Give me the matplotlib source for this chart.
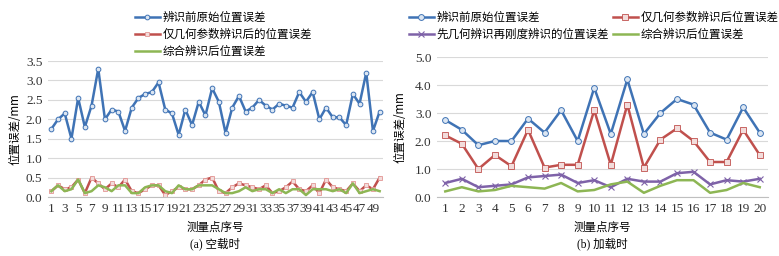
import matplotlib
matplotlib.use("Agg")
import matplotlib.pyplot as plt
import numpy as np

plt.rcParams['font.family'] = ['Liberation Serif', 'Noto Sans CJK SC', 'DejaVu Sans']

# (a) no-load data
pts_a = list(range(1, 51))
raw_a = [1.75, 2.0, 2.15, 1.5, 2.55, 1.8, 2.35, 3.3, 2.0, 2.25,
         2.2, 1.7, 2.3, 2.55, 2.65, 2.7, 2.95, 2.25, 2.15, 1.6,
         2.25, 1.85, 2.45, 2.1, 2.8, 2.45, 1.65, 2.3, 2.6, 2.2,
         2.3, 2.5, 2.35, 2.25, 2.4, 2.35, 2.3, 2.7, 2.45, 2.7,
         2.0, 2.3, 2.05, 2.05, 1.85, 2.65, 2.4, 3.2, 1.7, 2.2]
geo_a = [0.15, 0.3, 0.2, 0.25, 0.45, 0.1, 0.5, 0.35, 0.2, 0.35,
         0.25, 0.45, 0.15, 0.1, 0.2, 0.3, 0.3, 0.05, 0.15, 0.25,
         0.2, 0.2, 0.3, 0.45, 0.5, 0.15, 0.1, 0.25, 0.35, 0.3,
         0.25, 0.2, 0.3, 0.1, 0.15, 0.25, 0.4, 0.2, 0.15, 0.3,
         0.1, 0.45, 0.25, 0.2, 0.15, 0.35, 0.15, 0.3, 0.2, 0.5]
comb_a = [0.15, 0.3, 0.15, 0.2, 0.45, 0.1, 0.15, 0.3, 0.25, 0.15,
          0.3, 0.3, 0.1, 0.1, 0.25, 0.3, 0.3, 0.15, 0.1, 0.3,
          0.2, 0.2, 0.3, 0.3, 0.3, 0.2, 0.1, 0.1, 0.15, 0.25,
          0.15, 0.2, 0.2, 0.1, 0.2, 0.1, 0.2, 0.2, 0.05, 0.2,
          0.2, 0.2, 0.15, 0.2, 0.1, 0.35, 0.1, 0.15, 0.2, 0.15]

# (b) loaded data
pts_b = list(range(1, 21))
raw_b = [2.75, 2.4, 1.85, 2.0, 2.0, 2.8, 2.3, 3.1, 2.0, 3.9,
         2.25, 4.2, 2.25, 3.0, 3.5, 3.3, 2.3, 2.05, 3.2, 2.3]
geo_b = [2.2, 1.9, 1.0, 1.5, 1.1, 2.4, 1.05, 1.15, 1.15, 3.1,
         1.15, 3.3, 1.05, 2.05, 2.45, 2.0, 1.25, 1.25, 2.4, 1.5]
geo_stiff_b = [0.5, 0.65, 0.35, 0.4, 0.45, 0.7, 0.75, 0.8, 0.5, 0.6,
               0.35, 0.65, 0.55, 0.55, 0.85, 0.9, 0.45, 0.6, 0.55, 0.65]
comb_b = [0.2, 0.35, 0.2, 0.25, 0.4, 0.35, 0.3, 0.5, 0.2, 0.25,
          0.45, 0.55, 0.15, 0.4, 0.6, 0.6, 0.15, 0.25, 0.5, 0.35]

BLUE = '#3F73B5'
RED = '#C0504D'
GREEN = '#8DB654'
PURPLE = '#7E62A8'
GRID = '#D9D9D9'
CJK = ['Noto Sans CJK SC', 'DejaVu Sans']
FS_CJK = 8.3
FS_TICK = 9.5

fig = plt.figure(figsize=(7.79, 2.56), dpi=100)
W, H = 779, 256
axA = fig.add_axes([48 / W, 1 - 197 / H, (383 - 48) / W, (197 - 61) / H])
axB = fig.add_axes([437 / W, 1 - 197 / H, (768 - 437) / W, (197 - 57) / H])


def style(ax):
    for s in ['top', 'right', 'left']:
        ax.spines[s].set_visible(False)
    ax.spines['bottom'].set_color('#BFBFBF')
    ax.spines['bottom'].set_linewidth(0.8)
    ax.yaxis.grid(True, color=GRID, linewidth=0.8)
    ax.set_axisbelow(True)
    ax.tick_params(length=0, labelsize=FS_TICK, colors='#333333', pad=4)


def fx(px):
    return px / W


def fy(py):
    return 1 - py / H


# ---- (a)
axA.plot(pts_a, raw_a, color=BLUE, lw=1.8, marker='o', ms=3.4, mfc='#DCE6F2', mec=BLUE, mew=0.7,
         label='辨识前原始位置误差')
axA.plot(pts_a, geo_a, color=RED, lw=1.8, marker='s', ms=3.0, mfc='#F2DCDB', mec='#E39694', mew=0.6,
         label='仅几何参数辨识后的位置误差')
axA.plot(pts_a, comb_a, color=GREEN, lw=1.8, label='综合辨识后位置误差')
style(axA)
axA.set_xlim(0.5, 50.5)
axA.set_ylim(0, 3.5)
axA.set_yticks(np.arange(0, 3.51, 0.5))
axA.set_yticklabels([f'{v:.1f}' for v in np.arange(0, 3.51, 0.5)])
axA.set_xticks(pts_a[::2])
axA.set_xticklabels([str(p) for p in pts_a[::2]])
fig.text(fx(15), fy(129), '位置误差/mm', family=CJK, fontsize=FS_CJK, rotation=90,
         ha='center', va='center')
fig.text(fx(215), fy(227), '测量点序号', family=CJK, fontsize=FS_CJK, ha='center', va='center')
fig.text(fx(215), fy(244), '(a) 空载时', family=['Liberation Serif', 'Noto Sans CJK SC'],
         fontsize=FS_CJK, ha='center', va='center')
fig.legend(handles=axA.get_lines(), loc='upper left', bbox_to_anchor=(fx(130), fy(6)),
           frameon=False, ncol=1, prop={'family': CJK, 'size': FS_CJK},
           handlelength=2.2, handletextpad=0.25, labelspacing=0.35, borderaxespad=0)

# ---- (b)
l_raw, = axB.plot(pts_b, raw_b, color=BLUE, lw=1.8, marker='o', ms=4.2, mfc='#DCE6F2', mec=BLUE,
                  mew=0.7, label='辨识前原始位置误差')
l_geo, = axB.plot(pts_b, geo_b, color=RED, lw=1.8, marker='s', ms=3.8, mfc='#F2DCDB', mec=RED,
                  mew=0.6, label='仅几何参数辨识后位置误差')
l_stf, = axB.plot(pts_b, geo_stiff_b, color=PURPLE, lw=1.8, marker='x', ms=4.5, mec=PURPLE,
                  mew=0.8, label='先几何辨识再刚度辨识的位置误差')
l_cmb, = axB.plot(pts_b, comb_b, color=GREEN, lw=1.8, label='综合辨识后位置误差')
style(axB)
axB.set_xlim(0.5, 20.5)
axB.set_ylim(0, 5.0)
axB.set_yticks(np.arange(0, 5.01, 1.0))
axB.set_yticklabels([f'{v:.1f}' for v in np.arange(0, 5.01, 1.0)])
axB.set_xticks(pts_b)
axB.set_xticklabels([str(p) for p in pts_b])
fig.text(fx(400), fy(127), '位置误差/mm', family=CJK, fontsize=FS_CJK, rotation=90,
         ha='center', va='center')
fig.text(fx(602), fy(227), '测量点序号', family=CJK, fontsize=FS_CJK, ha='center', va='center')
fig.text(fx(602), fy(244), '(b) 加载时', family=['Liberation Serif', 'Noto Sans CJK SC'],
         fontsize=FS_CJK, ha='center', va='center')
fig.legend(handles=[l_raw, l_stf, l_geo, l_cmb], loc='upper left', bbox_to_anchor=(fx(404), fy(6)),
           frameon=False, ncol=2, prop={'family': CJK, 'size': FS_CJK},
           handlelength=2.2, handletextpad=0.25, labelspacing=0.35, columnspacing=0.3,
           borderaxespad=0)

fig.savefig('out.png', dpi=100)
